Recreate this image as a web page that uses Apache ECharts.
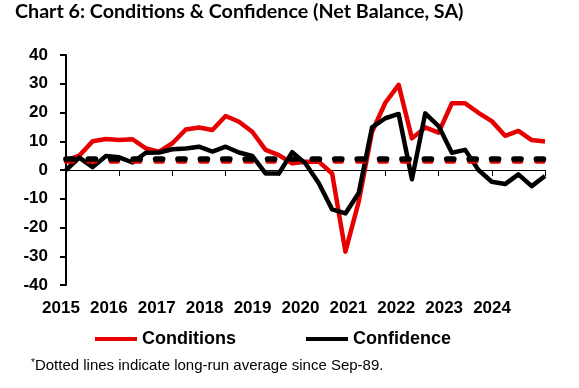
<!DOCTYPE html>
<html>
<head>
<meta charset="utf-8">
<script src="https://cdn.jsdelivr.net/npm/echarts@6/dist/echarts.min.js"></script>
<style>
html,body{margin:0;padding:0;background:#fff;}
#chart{width:579px;height:388px;}
</style>
</head>
<body>
<div id="chart"></div>
<script>
// Quarterly observations, Mar-15 .. Mar-24
const quarters = [
  'Mar-15','Jun-15','Sep-15','Dec-15',
  'Mar-16','Jun-16','Sep-16','Dec-16',
  'Mar-17','Jun-17','Sep-17','Dec-17',
  'Mar-18','Jun-18','Sep-18','Dec-18',
  'Mar-19','Jun-19','Sep-19','Dec-19',
  'Mar-20','Jun-20','Sep-20','Dec-20',
  'Mar-21','Jun-21','Sep-21','Dec-21',
  'Mar-22','Jun-22','Sep-22','Dec-22',
  'Mar-23','Jun-23','Sep-23','Dec-23',
  'Mar-24'
];
const yearLabels = ['2015','2016','2017','2018','2019','2020','2021','2022','2023','2024'];

const conditions = [
  3.3, 5.0, 10.0, 10.8,
  10.4, 10.7, 7.5, 6.4,
  9.3, 14.1, 14.8, 13.9,
  18.8, 16.8, 13.3, 7.0,
  5.2, 2.3, 2.9, 2.9,
  -1.2, -28.4, -11.0, 13.3,
  23.4, 29.6, 11.0, 14.8,
  13.0, 23.2, 23.2, 19.9,
  17.0, 11.9, 13.6, 10.4,
  9.9
];
const confidence = [
  0.0, 4.3, 1.0, 4.9,
  4.4, 2.6, 6.0, 6.1,
  7.2, 7.5, 8.1, 6.4,
  8.1, 6.1, 4.9, -1.2,
  -1.2, 6.2, 2.3, -4.6,
  -13.7, -15.1, -8.0, 14.8,
  18.0, 19.5, -3.2, 19.7,
  15.3, 6.0, 7.0, 0.0,
  -4.1, -4.9, -1.5, -5.6,
  -2.1
];
const conditionsAvg = 3.1;
const confidenceAvg = 3.9;

const RED = '#E60000';
const BLACK = '#000000';
const AXIS_FONT = "'Liberation Sans', Arial, sans-serif";

const chart = echarts.init(document.getElementById('chart'), null, {renderer: 'canvas'});
chart.setOption({
  animation: false,
  backgroundColor: '#ffffff',
  title: [
    {
      text: 'Chart 6: Conditions & Confidence (Net Balance, SA)',
      left: 15, top: 2, padding: 0,
      textStyle: {fontFamily: 'Lato, sans-serif', fontWeight: 'bold', fontSize: 19.7, color: '#000'}
    },
    {
      text: '{s|*}{t|Dotted lines indicate long-run average since Sep-89.}',
      left: 31, top: 358, padding: 0,
      textStyle: {
        fontWeight: 'normal',
        rich: {
          s: {fontFamily: AXIS_FONT, fontWeight: 'normal', fontSize: 10, color: '#000', verticalAlign: 'top', lineHeight: 15, padding: [0, 0, 6, 0]},
          t: {fontFamily: AXIS_FONT, fontWeight: 'normal', fontSize: 15, color: '#000', lineHeight: 15}
        }
      }
    }
  ],
  legend: {
    data: [{name: 'Conditions', icon: 'rect'}, {name: 'Confidence', icon: 'rect'}],
    left: 95, top: 330, padding: 0,
    itemWidth: 42, itemHeight: 4, itemGap: 70,
    textStyle: {fontFamily: AXIS_FONT, fontWeight: 'bold', fontSize: 18, color: '#000'}
  },
  grid: [
    {left: 66, right: 34, top: 55, bottom: 103, outerBoundsMode: 'none'},
    {left: 37, width: 479, top: 55, bottom: 103, outerBoundsMode: 'none'}
  ],
  xAxis: [
    {
      type: 'category', gridIndex: 0, data: quarters, boundaryGap: false,
      axisLine: {onZero: true, lineStyle: {color: '#000', width: 1}},
      axisTick: {show: true, interval: (i) => i % 4 === 0 && i > 0, length: 6, lineStyle: {color: '#000', width: 1}},
      axisLabel: {show: false},
      splitLine: {show: false}
    },
    {
      type: 'category', gridIndex: 1, data: yearLabels, boundaryGap: true, position: 'bottom',
      axisLine: {show: false}, axisTick: {show: false}, splitLine: {show: false},
      axisLabel: {fontFamily: AXIS_FONT, fontWeight: 'bold', fontSize: 17, color: '#000', margin: 15, interval: 0}
    }
  ],
  yAxis: [
    {
      type: 'value', gridIndex: 0, min: -40, max: 40, interval: 10,
      axisLine: {show: true, onZero: false, lineStyle: {color: '#000', width: 2}},
      axisTick: {show: true, length: 6, lineStyle: {color: '#000', width: 2}},
      axisLabel: {fontFamily: AXIS_FONT, fontWeight: 'bold', fontSize: 17, color: '#000', margin: 18},
      splitLine: {show: false}
    },
    {type: 'value', gridIndex: 1, min: -40, max: 40, show: false}
  ],
  series: [
    {
      name: 'Conditions', type: 'line', xAxisIndex: 0, yAxisIndex: 0,
      data: conditions, symbol: 'none', z: 2,
      lineStyle: {color: RED, width: 4.5, join: 'round'}, itemStyle: {color: RED},
      markLine: {
        silent: true, symbol: 'none', label: {show: false},
        lineStyle: {color: RED, width: 4.5, type: [7, 15.4], cap: 'round'},
        data: [{yAxis: conditionsAvg}]
      }
    },
    {
      name: 'Confidence', type: 'line', xAxisIndex: 0, yAxisIndex: 0,
      data: confidence, symbol: 'none', z: 3,
      lineStyle: {color: BLACK, width: 4.5, join: 'round'}, itemStyle: {color: BLACK},
      markLine: {
        silent: true, symbol: 'none', label: {show: false},
        lineStyle: {color: BLACK, width: 5.7, type: [7, 15.4], cap: 'round'},
        data: [{yAxis: confidenceAvg}]
      }
    }
  ]
});
</script>
</body>
</html>
